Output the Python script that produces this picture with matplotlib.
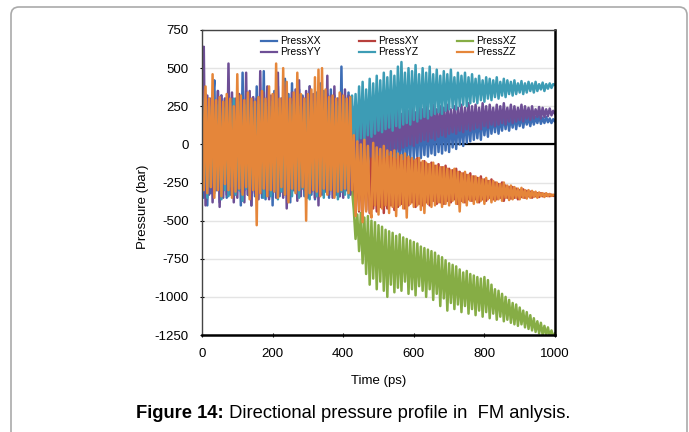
import numpy as np
import matplotlib
matplotlib.use("Agg")
import matplotlib.pyplot as plt
from matplotlib.patches import FancyBboxPatch

plt.rcParams['font.family'] = ['Liberation Sans', 'DejaVu Sans']
plt.rcParams['axes.unicode_minus'] = False

# time axis, one sample every 5 ps
time_ps = np.arange(0, 1001, 5)

# pressure components (bar)
# part 1: 0-425 ps (86 samples), part 2: 430-1000 ps (115 samples)
xx_1 = [380, -350, 330, -400, 300, -320, 280, 420, -300, 350,
        -380, 320, -280, 300, -350, 400, -330, 300, -350, 280,
        -300, 330, -400, 470, -300, 350, -330, 310, -400, 300,
        -340, 380, -290, 320, -350, 480, -360, 330, -300, 310,
        -400, 350, -300, 380, -340, 300, -320, 430, -320, 330,
        -380, 400, -300, 330, -350, 360, -300, 320, -340, 310,
        -350, 380, -330, 300, -360, 340, -300, 400, -320, 350,
        -310, 330, -350, 360, -300, 320, -330, 300, -340, 510,
        -330, 320, -300, 340, -320, 250]
xx_2 = [-180, 200, -210, 150, -190, 170, -160, 120, -200, 160,
        -150, 130, -170, 180, -140, 120, -160, 170, -130, 140,
        -120, 180, -140, 130, -110, 190, -120, 150, -100, 170,
        -110, 160, -90, 200, -100, 150, -80, 180, -90, 160,
        -70, 190, -80, 150, -60, 170, -70, 200, -50, 160,
        -60, 190, -40, 170, -50, 200, -20, 160, -30, 190,
        0, 170, -10, 200, 10, 180, 20, 210, 30, 190,
        40, 200, 30, 210, 60, 190, 50, 210, 70, 200,
        80, 210, 70, 190, 90, 200, 100, 210, 90, 190,
        110, 200, 100, 190, 120, 200, 110, 190, 130, 185,
        120, 190, 130, 180, 140, 190, 135, 175, 140, 180,
        145, 170, 140, 165, 150]

xy_1 = [250, -250, 230, -260, 240, -220, 260, -240, 220, -250,
        240, -230, 250, -260, 230, -240, 260, -220, 240, -250,
        230, -260, 250, -230, 240, -250, 220, -240, 260, -230,
        250, -240, 230, -260, 240, -220, 250, -250, 230, -240,
        260, -230, 240, -250, 220, -260, 250, -230, 240, -220,
        230, -250, 260, -240, 220, -230, 250, -260, 240, -230,
        220, -250, 240, -230, 260, -240, 250, -220, 230, -250,
        240, -260, 220, -230, 250, -240, 260, -250, 230, -220,
        240, -250, 230, -240, 250, -230]
xy_2 = [-300, -460, -40, -440, -60, -470, -30, -430, -50, -450,
        -70, -420, -60, -440, -80, -410, -70, -450, -90, -420,
        -80, -400, -90, -430, -100, -410, -80, -390, -110, -420,
        -90, -400, -100, -380, -110, -410, -90, -390, -120, -400,
        -110, -380, -130, -400, -120, -370, -140, -390, -130, -380,
        -150, -390, -140, -370, -160, -380, -170, -360, -160, -390,
        -180, -370, -190, -380, -200, -360, -190, -370, -210, -360,
        -220, -380, -210, -360, -230, -370, -240, -350, -230, -360,
        -250, -360, -260, -350, -250, -370, -270, -350, -280, -355,
        -280, -350, -290, -360, -300, -345, -295, -350, -305, -340,
        -310, -350, -315, -340, -320, -345, -320, -340, -325, -338,
        -328, -340, -330, -338, -332]

xz_1 = [200, -240, 230, -220, 210, -250, 240, -230, 220, -210,
        250, -240, 200, -230, 240, -220, 230, -250, 210, -240,
        220, -230, 250, -210, 230, -240, 200, -250, 240, -220,
        210, -230, 250, -240, 220, -210, 230, -250, 240, -230,
        200, -240, 220, -250, 230, -210, 240, -230, 250, -220,
        210, -240, 230, -250, 220, -230, 200, -240, 250, -210,
        240, -230, 220, -250, 210, -240, 230, -220, 250, -230,
        200, -250, 240, -210, 230, -240, 220, -230, 210, -250,
        240, -220, 230, -240, 220, -300]
xz_2 = [-430, -620, -460, -700, -450, -780, -480, -850, -470, -920,
        -500, -880, -510, -950, -530, -900, -540, -960, -560, -1000,
        -570, -920, -580, -970, -600, -940, -590, -960, -610, -900,
        -620, -980, -630, -950, -640, -990, -650, -930, -670, -960,
        -680, -1000, -690, -950, -700, -1020, -710, -980, -730, -1060,
        -740, -1010, -760, -1090, -780, -1040, -790, -1080, -800, -1050,
        -820, -1100, -840, -1060, -830, -1110, -850, -1080, -860, -1120,
        -870, -1090, -880, -1130, -870, -1100, -890, -1140, -920, -1110,
        -950, -1150, -960, -1130, -980, -1160, -1000, -1150, -1020, -1170,
        -1040, -1180, -1050, -1190, -1070, -1180, -1090, -1200, -1100, -1210,
        -1120, -1220, -1140, -1230, -1160, -1240, -1170, -1250, -1190, -1250,
        -1200, -1260, -1220, -1260, -1240]

yy_1 = [350, 640, -400, 320, -330, 300, -380, 280, -300, 350,
        -410, 320, -350, 300, -330, 530, -300, 340, -380, 300,
        -350, 330, -310, 290, -380, 470, -330, 350, -400, 310,
        -320, 300, -360, 480, -320, 340, -300, 380, -360, 320,
        -300, 330, -350, 470, -320, 300, -350, 380, -420, 300,
        -330, 340, -300, 360, -370, 420, -340, 310, -300, 350,
        -340, 380, -310, 330, -350, 300, -400, 350, -330, 310,
        -300, 450, -330, 320, -350, 380, -310, 300, -340, 330,
        -350, 360, -300, 320, -330, 250]
yy_2 = [-100, 250, -130, 200, -90, 230, -120, 180, -100, 210,
        -80, 240, -110, 190, -60, 220, -90, 250, -70, 200,
        -50, 230, -60, 210, -30, 250, -40, 200, -20, 240,
        -10, 220, 0, 250, -10, 210, 10, 240, 20, 230,
        30, 250, 20, 220, 40, 260, 30, 230, 50, 250,
        60, 240, 50, 260, 70, 230, 80, 250, 70, 240,
        90, 260, 80, 240, 100, 270, 90, 250, 100, 260,
        110, 240, 100, 270, 120, 250, 110, 260, 130, 240,
        120, 260, 130, 250, 140, 270, 130, 240, 150, 260,
        140, 250, 150, 240, 160, 260, 150, 250, 170, 240,
        160, 250, 170, 230, 180, 245, 170, 240, 180, 230,
        185, 235, 190, 220, 200]

yz_1 = [300, -300, 280, -350, 250, -280, 300, -320, 260, -300,
        280, -360, 240, -300, 290, -340, 270, -280, 300, -330,
        250, -300, 280, -370, 260, -290, 300, -340, 240, -300,
        280, -330, 260, -310, 300, -350, 270, -300, 250, -340,
        280, -300, 300, -360, 240, -310, 270, -330, 290, -300,
        260, -340, 280, -310, 300, -350, 250, -290, 270, -330,
        300, -360, 260, -300, 280, -340, 250, -310, 290, -350,
        270, -320, 300, -300, 260, -340, 280, -360, 250, -310,
        300, -330, 270, -350, 280, 320]
yz_2 = [10, 330, 20, 380, 40, 410, 30, 360, 60, 430,
        50, 400, 70, 450, 90, 420, 80, 470, 100, 440,
        110, 480, 90, 450, 120, 510, 110, 540, 130, 470,
        140, 500, 130, 480, 160, 520, 150, 460, 170, 500,
        180, 470, 170, 510, 190, 460, 200, 490, 210, 450,
        200, 480, 220, 460, 230, 490, 240, 440, 230, 470,
        250, 450, 260, 470, 250, 440, 270, 460, 280, 430,
        270, 450, 290, 420, 280, 440, 300, 430, 290, 420,
        310, 440, 300, 410, 320, 430, 310, 420, 330, 410,
        320, 420, 330, 400, 340, 415, 330, 400, 340, 410,
        350, 400, 340, 410, 350, 395, 360, 405, 350, 395,
        365, 400, 370, 395, 390]

zz_1 = [350, -300, 380, -320, 300, -280, 460, -350, 290, -300,
        310, -340, 280, -260, 330, -300, 300, -350, 250, -310,
        460, -290, 320, -330, 290, -280, 340, -360, 300, -300,
        280, -530, 310, -320, 350, -290, 300, -340, 380, -300,
        330, -310, 530, -350, 300, -280, 500, -330, 410, -380,
        300, -290, 340, -320, 470, -300, 330, -280, 300, -500,
        330, -320, 360, -300, 440, -310, 490, -340, 500, -290,
        360, -330, 310, -300, 320, -350, 300, -310, 340, -300,
        320, -290, 300, -320, 310, -300]
zz_2 = [60, -470, 20, -430, 0, -510, 30, -440, -10, -420,
        -480, 10, -400, -20, -460, -30, -420, -10, -400, -40,
        -450, -50, -410, -40, -470, -60, -400, -70, -420, -60,
        -480, -80, -390, -90, -410, -100, -400, -90, -430, -110,
        -450, -120, -390, -130, -410, -120, -400, -140, -380, -150,
        -410, -150, -390, -160, -400, -170, -370, -160, -390, -180,
        -440, -190, -380, -180, -400, -200, -370, -210, -390, -210,
        -380, -220, -370, -230, -390, -220, -360, -240, -380, -240,
        -370, -250, -360, -260, -370, -250, -350, -270, -365, -270,
        -360, -280, -350, -290, -360, -285, -350, -300, -355, -300,
        -350, -305, -345, -310, -350, -315, -340, -320, -345, -320,
        -340, -325, -338, -330, -335]

labels = ['PressXX', 'PressXY', 'PressXZ', 'PressYY', 'PressYZ', 'PressZZ']
series = [xx_1 + xx_2, xy_1 + xy_2, xz_1 + xz_2,
          yy_1 + yy_2, yz_1 + yz_2, zz_1 + zz_2]
colors = ['#3d6db5', '#b8403c', '#86ad45', '#6e4f96', '#3d9cb5', '#e5863a']

fig = plt.figure(figsize=(6.89, 4.32), dpi=100)
ax = fig.add_axes([202 / 689, 1 - 335 / 432, 353 / 689, 305 / 432])

lines = []
for lab, vals, col in zip(labels, series, colors):
    ln, = ax.plot(time_ps, vals, color=col, lw=1.8, label=lab, zorder=3)
    lines.append(ln)

ax.axhline(0, color='black', lw=1.6, zorder=2)

ax.set_xlim(0, 1000)
ax.set_ylim(-1250, 750)
ax.set_xticks(np.arange(0, 1001, 200))
ax.set_yticks(np.arange(-1250, 751, 250))
ax.grid(axis='y', color='#e4e4e4', lw=1, zorder=0)
ax.set_axisbelow(True)
ax.tick_params(axis='both', labelsize=9.5, length=3, direction='inout', color='black')
ax.tick_params(axis='x', pad=8)
ax.tick_params(axis='y', pad=8)

for side in ['left', 'top']:
    ax.spines[side].set_color('#444444')
    ax.spines[side].set_linewidth(1.0)
for side in ['right', 'bottom']:
    ax.spines[side].set_color('black')
    ax.spines[side].set_linewidth(1.8)
for sp in ax.spines.values():
    sp.set_zorder(4)

ax.set_xlabel('Time (ps)', fontsize=9.5, labelpad=11)
ax.set_ylabel('Pressure (bar)', fontsize=9.5)
ax.yaxis.set_label_coords(-0.15, 0.42)

# legend: 2 rows x 3 columns, column-major order for matplotlib
order = [0, 3, 1, 4, 2, 5]
leg = ax.legend([lines[i] for i in order], [labels[i] for i in order],
                ncol=3, frameon=False, fontsize=7.5, handlelength=1.55,
                handletextpad=0.25, columnspacing=3.7, labelspacing=0.1,
                borderpad=0, loc='upper left',
                bbox_to_anchor=(256 / 689, 1 - 31 / 432),
                bbox_transform=fig.transFigure)
for h in leg.legend_handles:
    h.set_linewidth(1.6)

# caption with bold label, second part placed right after the first
cap_y = 1 - 418 / 432
t1 = fig.text(136 / 689, cap_y, 'Figure 14:', fontsize=13.2, fontweight='bold',
              ha='left', va='baseline')
renderer = fig.canvas.get_renderer()
bb = t1.get_window_extent(renderer)
fig.text(bb.x1 / 689, cap_y, ' Directional pressure profile in  FM anlysis.',
         fontsize=13.2, ha='left', va='baseline')

# page frame with rounded top corners
frame = FancyBboxPatch((11, -20), 676, 445, boxstyle='round,pad=0,rounding_size=8',
                       transform=None, fill=False, ec='#aaaaaa', lw=1.2)
fig.patches.append(frame)

fig.savefig('out.png', dpi=100)
